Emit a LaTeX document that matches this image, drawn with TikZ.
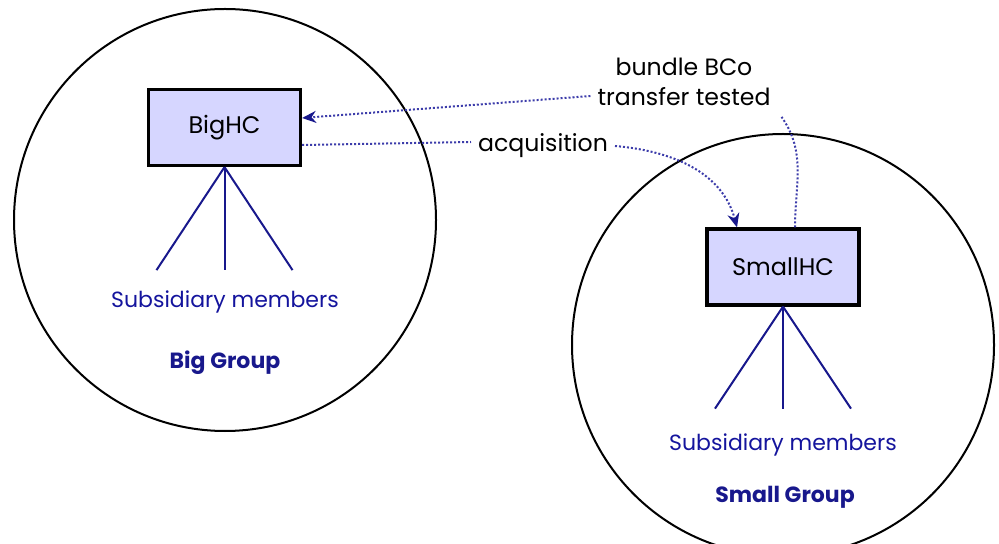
\documentclass[tikz,border=0pt]{standalone}
\usepackage{fontspec}
\setmainfont{Poppins}
\usetikzlibrary{arrows.meta}
\definecolor{navy}{RGB}{24,24,140}
\definecolor{boxfill}{RGB}{214,214,255}
\definecolor{dotblue}{RGB}{60,60,170}
\tikzset{>={Stealth[length=7pt,width=6pt,navy]}}
\tikzset{
  hc/.style={draw,line width=1.6pt,fill=boxfill,minimum width=76pt,minimum height=38pt,
    inner sep=0pt,font=\fontsize{12}{14}\selectfont},
  member/.style={draw=navy,line width=1pt},
  membertext/.style={text=navy!85!blue,font=\fontsize{11}{13}\selectfont},
  grouptext/.style={text=navy,font=\fontsize{11}{13}\selectfont\bfseries},
  note/.style={font=\fontsize{11.8}{15}\selectfont,align=center},
  link/.style={dotblue,densely dotted,line width=1pt},
}

\begin{document}
\begin{tikzpicture}[x=0.5pt,y=-0.5pt]
\useasboundingbox (0,0) rectangle (999,544);
% the two groups
\draw[line width=1pt] (225,220) circle[radius=211];
\draw[line width=1pt] (783,345) circle[radius=211];
\node[hc] (big) at (224.5,127.5) {BigHC};
\node[hc] (small) at (783,267) {SmallHC};
% subsidiaries
\foreach \dx [count=\i] in {-68,0,68}{
  \path (big.south) ++(\dx,103) coordinate (bigm\i);
  \draw[member] (big.south) -- (bigm\i);
  \path (small.south) ++(\dx,102) coordinate (smallm\i);
  \draw[member] (small.south) -- (smallm\i);
}
\node[membertext] (bigsub) at (225,302) {Subsidiary members};
\node[membertext] (smallsub) at (783,445) {Subsidiary members};
\node[grouptext] (bigname) at (225,363) {Big Group};
\node[grouptext] (smallname) at (785,497) {Small Group};
% labels on the links
\node[note] (bundle) at (684,82) {bundle BCo\\transfer tested};
\node[note] (acq) at (543,146) {acquisition};
\draw[link,->] ([yshift=-7pt]bundle.west) -- ([yshift=4.75pt]big.east);
\draw[link] ([yshift=-8.75pt]big.east) -- ([yshift=2pt]acq.west);
\draw[link,->] (acq.east) to[out=-5,in=105] ([xshift=-23pt]small.north);
\draw[link] ([xshift=6pt]small.north) to[out=90,in=-55] ([xshift=2pt,yshift=-2pt]bundle.south east);
\end{tikzpicture}
\end{document}
